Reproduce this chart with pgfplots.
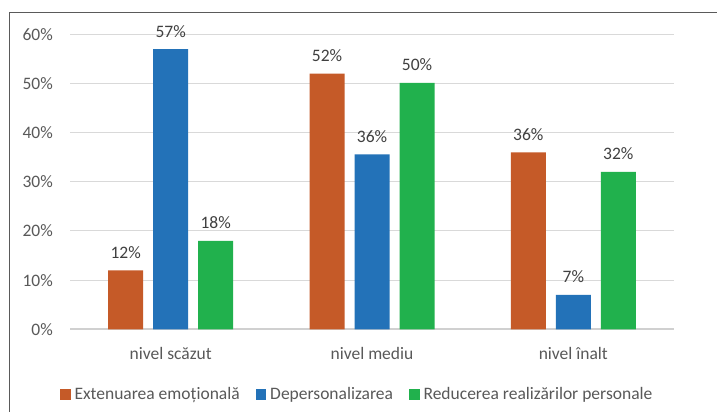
\documentclass[border=0pt]{standalone}
\usepackage{pgfplots}
\pgfplotsset{compat=1.18}
\usepackage{fontspec}
\setmainfont{Carlito}
\definecolor{cOr}{HTML}{C55A28}
\definecolor{cBl}{HTML}{2372B8}
\definecolor{cGr}{HTML}{21B14D}
\definecolor{txt}{HTML}{595959}
\definecolor{lbl}{HTML}{404040}
\definecolor{grd}{HTML}{D9D9D9}
\definecolor{axl}{HTML}{D0D0D0}
\definecolor{frm}{HTML}{5A5A5A}
\newcommand{\cf}{\fontsize{17.5}{20}\selectfont}
\begin{document}
\begin{tikzpicture}
\useasboundingbox (0,0) rectangle (717pt,412pt);
\fill[white] (0,0) rectangle (717pt,412pt);
\draw[frm, line width=1.1pt] (9.5pt,0) -- (9.5pt,399.3pt) -- (717pt,399.3pt);
\begin{axis}[
  at={(70pt,82.7pt)}, anchor=south west,
  scale only axis, width=604pt, height=295pt,
  xmin=-0.5, xmax=2.5, ymin=0, ymax=60,
  clip=false,
  ybar=10pt, bar width=35pt,
  axis x line*=bottom, axis y line*=left,
  y axis line style={draw=none},
  x axis line style={draw=axl, line width=1.8pt, -},
  ymajorgrids, grid style={grd, line width=1pt},
  major tick length=0pt,
  xtick style={draw=none}, ytick style={draw=none},
  ytick={0,10,20,30,40,50,60},
  yticklabels={0\%,10\%,20\%,30\%,40\%,50\%,60\%},
  yticklabel style={anchor=east, inner sep=0pt, xshift=-17pt, font=\cf, text=txt},
  xtick={0,1,2},
  xticklabels={nivel scăzut, nivel mediu, nivel înalt},
  xticklabel style={anchor=base, inner sep=0pt, yshift=-30pt, font=\cf, text=txt},
  /pgf/number format/assume math mode=true,
  nodes near coords={\pgfmathprintnumber[fixed, precision=0]{\pgfplotspointmeta}\%},
  every node near coord/.append style={anchor=base, inner sep=0pt, yshift=12pt, text=lbl, font=\cf},
  legend columns=3,
  legend style={at={(axis description cs:-0.01656,-0.2447)}, anchor=south west,
    draw=none, fill=none, inner sep=0pt, outer sep=0pt,
    font=\cf, text=txt,
    nodes={inner sep=0pt, anchor=base west},
    /tikz/every odd column/.append style={column sep=4pt},
    /tikz/every even column/.append style={column sep=16pt}},
  legend image code/.code={\fill[#1] (0pt,0pt) rectangle (10.5pt,10.5pt);},
]
\addplot[fill=cOr, draw=none] coordinates {(0,12) (1,52) (2,36)};
\addlegendentry{Extenuarea emoțională}
\addplot[fill=cBl, draw=none] coordinates {(0,57) (1,35.6) (2,7)};
\addlegendentry{Depersonalizarea}
\addplot[fill=cGr, draw=none] coordinates {(0,18) (1,50.1) (2,32)};
\addlegendentry{Reducerea realizărilor personale}
\end{axis}
\end{tikzpicture}
\end{document}
